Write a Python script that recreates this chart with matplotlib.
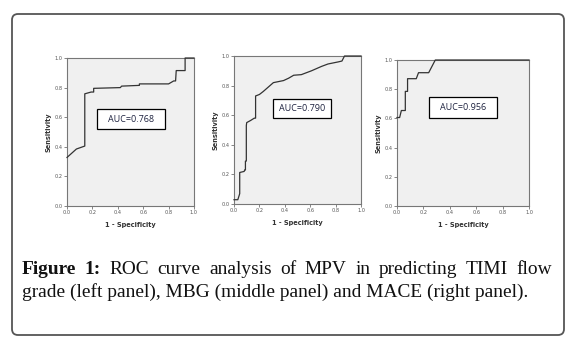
import matplotlib
matplotlib.use("Agg")
import matplotlib.pyplot as plt
from matplotlib.patches import FancyBboxPatch, Rectangle
from matplotlib.transforms import IdentityTransform

# ROC curve points (1 - specificity, sensitivity)
timi_fpr = [0.0, 0.074, 0.14, 0.14, 0.19, 0.21, 0.21, 0.42, 0.43, 0.57, 0.57, 0.80, 0.82, 0.84, 0.855, 0.86, 0.93, 0.93, 1.0]
timi_tpr = [0.328, 0.385, 0.405, 0.758, 0.77, 0.77, 0.795, 0.80, 0.81, 0.815, 0.825, 0.825, 0.835, 0.845, 0.845, 0.915, 0.915, 1.0, 1.0]

mbg_fpr = [0.0, 0.03, 0.04, 0.045, 0.045, 0.08, 0.084, 0.09, 0.09, 0.097, 0.097, 0.10, 0.13, 0.16, 0.17, 0.17, 0.20, 0.23, 0.27,
           0.31, 0.39, 0.43, 0.47, 0.53, 0.61, 0.69, 0.74, 0.82, 0.85, 0.87, 1.0]
mbg_tpr = [0.029, 0.029, 0.056, 0.07, 0.213, 0.22, 0.23, 0.23, 0.29, 0.29, 0.53, 0.55, 0.564, 0.58, 0.58, 0.73, 0.74, 0.76, 0.79,
           0.82, 0.834, 0.85, 0.87, 0.874, 0.90, 0.93, 0.946, 0.96, 0.966, 1.0, 1.0]

mace_fpr = [0.0, 0.02, 0.033, 0.063, 0.063, 0.07, 0.08, 0.08, 0.146, 0.163, 0.24, 0.29, 1.0]
mace_tpr = [0.606, 0.606, 0.654, 0.654, 0.785, 0.785, 0.785, 0.872, 0.872, 0.913, 0.913, 1.0, 1.0]

auc_labels = ["AUC=0.768", "AUC=0.790", "AUC=0.956"]
ticks = [0.0, 0.2, 0.4, 0.6, 0.8, 1.0]
tick_labels = ["0.0", "0.2", "0.4", "0.6", "0.8", "1.0"]

caption_1 = ["Figure", "1:", "ROC", "curve", "analysis", "of", "MPV", "in", "predicting", "TIMI", "flow"]
caption_2 = "grade (left panel), MBG (middle panel) and MACE (right panel)."

W, H = 575, 338
fig = plt.figure(figsize=(W / 100, H / 100), dpi=100)
fig.patch.set_facecolor("white")
px = IdentityTransform()


def box(x0, y0, x1, y1):
    # image pixel box -> figure fraction
    return [x0 / W, 1 - y1 / H, (x1 - x0) / W, (y1 - y0) / H]


# outer rounded frame
frame = FancyBboxPatch((12, H - 335), 552, 321, boxstyle="round,pad=0,rounding_size=6",
                       transform=px, fill=False, edgecolor="#555555", linewidth=1.3)
fig.add_artist(frame)

panels = [
    (box(67, 58, 194, 206), timi_fpr, timi_tpr, (0.236, 0.52, 0.536, 0.135)),
    (box(234, 56, 361, 204), mbg_fpr, mbg_tpr, (0.307, 0.581, 0.457, 0.128)),
    (box(397, 60, 529, 206), mace_fpr, mace_tpr, (0.242, 0.603, 0.516, 0.144)),
]

for (rect, fx, fy, abox), label in zip(panels, auc_labels):
    ax = fig.add_axes(rect)
    ax.set_facecolor("#f0f0f0")
    ax.plot(fx, fy, color="#333333", linewidth=0.9, clip_on=False, zorder=3)
    ax.set_xlim(0, 1)
    ax.set_ylim(0, 1)
    ax.set_xticks(ticks)
    ax.set_yticks(ticks)
    ax.set_xticklabels(tick_labels)
    ax.set_yticklabels(tick_labels)
    ax.tick_params(labelsize=3.6, colors="#555555", length=2, width=0.5, pad=1.2)
    for s in ax.spines.values():
        s.set_color("#777777")
        s.set_linewidth(0.8)
    ax.set_xlabel("1 - Specificity", fontsize=4.8, fontweight="bold", color="#333333")
    ax.set_ylabel("Sensitivity", fontsize=4.8, fontweight="bold", color="#333333")
    ax.xaxis.set_label_coords(0.5, -0.11)
    ax.yaxis.set_label_coords(-0.12, 0.5)
    bx, by, bw, bh = abox
    ax.add_patch(Rectangle((bx, by), bw, bh, transform=ax.transAxes, facecolor="white",
                           edgecolor="black", linewidth=0.9, zorder=5))
    ax.text(bx + bw / 2, by + bh / 2, label, transform=ax.transAxes, ha="center", va="center",
            fontsize=6.5, family="Open Sans", color="#1e2340", zorder=6)

# caption, first line justified
fig.canvas.draw()
renderer = fig.canvas.get_renderer()
serif = "Liberation Serif"

t2 = fig.text(22, H - 297, caption_2, transform=px, fontsize=12, family=serif, color="#111111")
w2 = t2.get_window_extent(renderer).width
fs = 12 * 505 / w2
t2.set_fontsize(fs)

words = []
for i, w in enumerate(caption_1):
    t = fig.text(0, H - 274, w, transform=px, fontsize=fs, family=serif, color="#111111",
                 fontweight="bold" if i < 2 else "normal")
    words.append(t)
widths = [t.get_window_extent(renderer).width for t in words]
gap = (552 - 22 - sum(widths)) / (len(words) - 1)
x = 22
for t, w in zip(words, widths):
    t.set_x(x)
    x += w + gap

fig.savefig("out.png", dpi=100)
